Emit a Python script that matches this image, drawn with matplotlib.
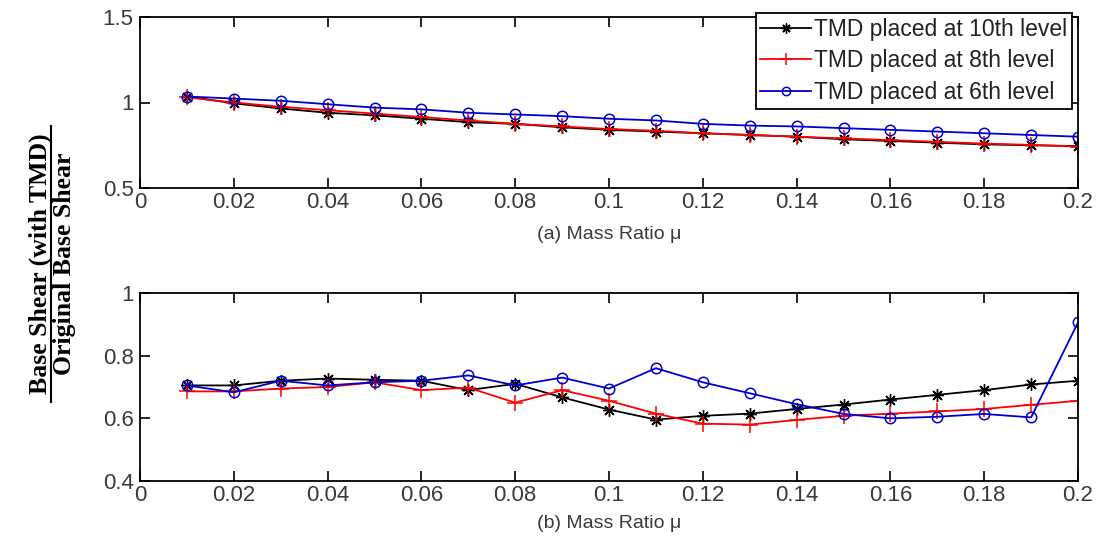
import matplotlib
matplotlib.use("Agg")
import matplotlib.pyplot as plt
from matplotlib.lines import Line2D

mu = [0.01, 0.02, 0.03, 0.04, 0.05, 0.06, 0.07, 0.08, 0.09, 0.10,
      0.11, 0.12, 0.13, 0.14, 0.15, 0.16, 0.17, 0.18, 0.19, 0.20]

# (a) top panel
a_10th = [1.035, 0.995, 0.965, 0.94, 0.925, 0.905, 0.885, 0.875, 0.855, 0.84,
          0.83, 0.82, 0.81, 0.80, 0.785, 0.775, 0.765, 0.755, 0.75, 0.745]
a_8th = [1.03, 1.00, 0.975, 0.955, 0.935, 0.915, 0.895, 0.875, 0.86, 0.845,
         0.835, 0.82, 0.81, 0.80, 0.79, 0.78, 0.77, 0.76, 0.752, 0.742]
a_6th = [1.035, 1.023, 1.01, 0.99, 0.97, 0.96, 0.94, 0.93, 0.92, 0.905,
         0.895, 0.875, 0.865, 0.86, 0.85, 0.84, 0.83, 0.82, 0.81, 0.80]

# (b) bottom panel
b_10th = [0.705, 0.705, 0.72, 0.727, 0.723, 0.72, 0.69, 0.71, 0.667, 0.628,
          0.596, 0.608, 0.615, 0.63, 0.644, 0.66, 0.675, 0.69, 0.708, 0.72]
b_8th = [0.686, 0.686, 0.695, 0.70, 0.715, 0.69, 0.698, 0.65, 0.69, 0.656,
         0.615, 0.583, 0.58, 0.595, 0.608, 0.615, 0.622, 0.63, 0.643, 0.656]
b_6th = [0.705, 0.683, 0.72, 0.705, 0.715, 0.72, 0.737, 0.705, 0.73, 0.695,
         0.76, 0.715, 0.68, 0.645, 0.614, 0.60, 0.605, 0.614, 0.603, 0.906]

labels = ["TMD placed at 10th level", "TMD placed at 8th level", "TMD placed at 6th level"]
xticks = [0, 0.02, 0.04, 0.06, 0.08, 0.1, 0.12, 0.14, 0.16, 0.18, 0.2]
xticklabels = ["0", "0.02", "0.04", "0.06", "0.08", "0.1", "0.12", "0.14", "0.16", "0.18", "0.2"]

plt.rcParams['font.family'] = ['Liberation Sans', 'DejaVu Sans']

W, H = 1096, 536
fig = plt.figure(figsize=(W / 100, H / 100), dpi=100)

def px_axes(l, t, r, b):
    return fig.add_axes([l / W, 1 - b / H, (r - l) / W, (b - t) / H])

ax1 = px_axes(140, 17, 1078, 188)
ax2 = px_axes(140, 293, 1078, 481)

TICK_COLOR = '#3a3a3a'

def style(ax, yticks, ylabels, ylim, xlabel, lp):
    ax.set_xlim(0, 0.2)
    ax.set_ylim(*ylim)
    ax.set_xticks(xticks)
    ax.set_xticklabels(xticklabels)
    ax.set_yticks(yticks)
    ax.set_yticklabels(ylabels)
    ax.tick_params(direction='in', top=True, right=True, length=7, width=1.2,
                   labelsize=16, labelcolor=TICK_COLOR, pad=3)
    ax.tick_params(axis='y', pad=4.5)
    for s in ax.spines.values():
        s.set_linewidth(1.3)
    ax.set_xlabel(xlabel, fontsize=14, color=TICK_COLOR, labelpad=lp)

ast = (8, 2, 0)
kw10 = dict(color='black', marker=ast, markersize=9, lw=1.3, markeredgewidth=1.0)
kw8 = dict(color='red', marker='+', markersize=11, lw=1.3, markeredgewidth=1.1)
kw6 = dict(color='#0000cc', marker='o', markersize=7.5, mfc='none', lw=1.3, markeredgewidth=1.1)

l1, = ax1.plot(mu, a_10th, **kw10)
l2, = ax1.plot(mu, a_8th, **kw8)
l3, = ax1.plot(mu, a_6th, **kw6)
style(ax1, [0.5, 1, 1.5], ["0.5", "1", "1.5"], (0.5, 1.5), "(a) Mass Ratio \u03bc", 9)

ax2.plot(mu, b_10th, **kw10)
ax2.plot(mu, b_8th, **kw8)
ax2.plot(mu, b_6th, **kw6)
style(ax2, [0.4, 0.6, 0.8, 1.0], ["0.4", "0.6", "0.8", "1"], (0.4, 1.0), "(b) Mass Ratio \u03bc", 6)

leg = ax1.legend([l1, l2, l3], labels, loc='upper right', bbox_to_anchor=(1072 / W, 1 - 13 / H),
                 bbox_transform=fig.transFigure, fontsize=16.5, frameon=True, fancybox=False,
                 edgecolor='black', framealpha=1, borderpad=0.2, labelspacing=0.38,
                 handlelength=2.2, handletextpad=0.15, borderaxespad=0, markerscale=0.8)
leg.get_frame().set_linewidth(1.3)
for t in leg.get_texts():
    t.set_color('#222222')

# y label as a fraction
cy = 1 - 264 / H
fig.text(40 / W, cy, "Base Shear (with TMD)", rotation=90, ha='center', va='center',
         fontsize=18.5, fontweight='bold', family='Liberation Serif')
fig.text(65 / W, cy, "Original Base Shear", rotation=90, ha='center', va='center',
         fontsize=18.5, fontweight='bold', family='Liberation Serif')
fig.add_artist(Line2D([51 / W, 51 / W], [1 - 402 / H, 1 - 126 / H], color='black', lw=1.5,
                      transform=fig.transFigure))

fig.savefig("out.png", dpi=100)
